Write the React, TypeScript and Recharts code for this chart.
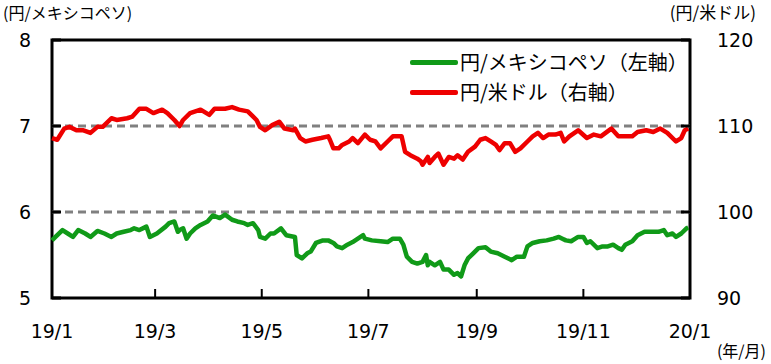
import React from 'react';
import { LineChart, Line, XAxis, YAxis, ReferenceLine, ReferenceArea } from 'recharts';

// x positions are days counted from 2019/1/1
const monthTicks = [0, 59, 120, 181, 243, 304, 365];
const monthLabels = ['19/1', '19/3', '19/5', '19/7', '19/9', '19/11', '20/1'];
const mxnTicks = [5, 6, 7, 8];
const usdTicks = [90, 100, 110, 120];

const mxnDays = [0, 2, 6, 9, 12, 15, 19, 22, 26, 30, 34, 37, 41, 45, 47, 50, 54, 56, 60, 65, 67, 70, 72, 73, 75, 77, 79, 82, 85, 89, 92, 96, 99, 103, 106, 110, 112, 115, 118, 119, 122, 125, 127, 131, 134, 139, 140, 143, 146, 148, 151, 155, 158, 161, 163, 166, 169, 172, 175, 178, 179, 183, 188, 192, 195, 199, 201, 203, 206, 209, 212, 214, 215, 216, 219, 222, 224, 227, 230, 232, 234, 236, 238, 241, 244, 248, 251, 255, 259, 263, 266, 270, 272, 275, 279, 283, 287, 290, 292, 294, 297, 301, 304, 306, 308, 312, 315, 318, 321, 324, 326, 328, 332, 335, 339, 344, 347, 350, 352, 355, 357, 360, 363, 364];
const mxnValues = [5.67, 5.71, 5.79, 5.75, 5.71, 5.79, 5.75, 5.71, 5.78, 5.75, 5.71, 5.75, 5.77, 5.79, 5.81, 5.79, 5.83, 5.71, 5.75, 5.83, 5.87, 5.89, 5.77, 5.79, 5.81, 5.69, 5.75, 5.81, 5.85, 5.89, 5.96, 5.93, 5.97, 5.91, 5.89, 5.87, 5.85, 5.87, 5.79, 5.71, 5.69, 5.75, 5.75, 5.81, 5.73, 5.71, 5.5, 5.46, 5.52, 5.54, 5.64, 5.67, 5.67, 5.64, 5.6, 5.58, 5.62, 5.65, 5.69, 5.73, 5.69, 5.67, 5.66, 5.65, 5.69, 5.69, 5.62, 5.48, 5.42, 5.4, 5.42, 5.5, 5.38, 5.42, 5.38, 5.42, 5.33, 5.33, 5.27, 5.29, 5.25, 5.38, 5.46, 5.52, 5.58, 5.59, 5.54, 5.52, 5.48, 5.44, 5.48, 5.48, 5.6, 5.64, 5.66, 5.67, 5.69, 5.71, 5.69, 5.67, 5.66, 5.71, 5.71, 5.64, 5.66, 5.58, 5.6, 5.6, 5.62, 5.58, 5.56, 5.62, 5.66, 5.73, 5.77, 5.77, 5.77, 5.79, 5.73, 5.75, 5.71, 5.75, 5.81, 5.82];

const usdDays = [0, 3, 7, 10, 14, 18, 22, 26, 29, 34, 37, 43, 46, 50, 54, 58, 63, 66, 70, 73, 75, 79, 85, 90, 93, 99, 103, 107, 112, 117, 119, 122, 126, 130, 133, 138, 139, 142, 145, 149, 154, 158, 159, 161, 164, 166, 170, 172, 175, 179, 182, 185, 188, 192, 195, 200, 202, 205, 209, 211, 212, 215, 216, 219, 221, 224, 227, 230, 232, 235, 238, 242, 245, 248, 251, 254, 256, 259, 262, 265, 268, 272, 275, 278, 281, 284, 288, 291, 293, 296, 301, 306, 310, 314, 320, 324, 328, 332, 335, 340, 344, 348, 352, 357, 360, 362, 364];
const usdValues = [108.6, 108.4, 109.7, 109.9, 109.5, 109.5, 109.2, 109.9, 109.9, 110.9, 110.7, 110.9, 111.1, 112.0, 112.0, 111.5, 111.9, 111.5, 110.7, 110.0, 110.7, 111.5, 111.9, 111.3, 112.0, 112.0, 112.2, 111.9, 111.7, 110.7, 109.9, 109.5, 110.1, 110.5, 109.7, 109.5, 109.7, 108.6, 108.2, 108.4, 108.6, 108.8, 108.4, 107.4, 107.4, 107.8, 108.2, 108.6, 108.0, 109.0, 108.4, 108.2, 107.4, 108.2, 108.8, 108.8, 107.0, 106.6, 106.2, 105.9, 105.5, 106.4, 105.7, 106.4, 106.8, 105.5, 106.4, 106.2, 106.6, 106.1, 107.0, 107.6, 108.4, 108.6, 108.2, 107.8, 107.2, 108.0, 108.0, 107.0, 107.4, 108.2, 108.8, 109.2, 108.6, 109.0, 109.0, 109.2, 108.2, 108.8, 109.5, 108.6, 109.0, 108.8, 109.7, 108.8, 108.8, 108.8, 109.3, 109.5, 109.3, 109.7, 109.2, 108.2, 108.6, 109.5, 109.7];

const GREEN = '#109a18';
const RED = '#ee0000';
const FONT = "'DejaVu Sans', 'Noto Sans CJK JP', sans-serif";
const JP_FONT = "'Noto Sans CJK JP', 'DejaVu Sans', sans-serif";

const buildData = () => {
    const rows = new Map<number, any>();
    mxnDays.forEach((d, i) => rows.set(d, { ...(rows.get(d) || { day: d }), mxn: mxnValues[i] }));
    usdDays.forEach((d, i) => rows.set(d, { ...(rows.get(d) || { day: d }), usd: usdValues[i] }));
    return Array.from(rows.values()).sort((a, b) => a.day - b.day);
};

const data = buildData();

const XTick = (props: any) => {
    const { x, y, payload } = props;
    const label = monthLabels[monthTicks.indexOf(payload.value)];
    return (
        <g>
            <line x1={x} y1={y} x2={x} y2={y - 9} stroke="#000" strokeWidth={2} />
            <text x={x} y={y + 40} textAnchor="middle" fontSize={19} fontFamily={FONT} fill="#000">
                {label}
            </text>
        </g>
    );
};

const LeftTick = (props: any) => {
    const { x, y, payload } = props;
    return (
        <g>
            <line x1={x} y1={y} x2={x + 9} y2={y} stroke="#000" strokeWidth={3} />
            <text x={x - 21} y={y + 7} textAnchor="end" fontSize={19} fontFamily={FONT} fill="#000">
                {payload.value}
            </text>
        </g>
    );
};

const RightTick = (props: any) => {
    const { x, y, payload } = props;
    return (
        <g>
            <line x1={x} y1={y} x2={x - 9} y2={y} stroke="#000" strokeWidth={3} />
            <text x={x + 27} y={y + 7} textAnchor="start" fontSize={19} fontFamily={FONT} fill="#000">
                {payload.value}
            </text>
        </g>
    );
};

const legendItems = [
    { name: '円/メキシコペソ（左軸）', color: GREEN },
    { name: '円/米ドル（右軸）', color: RED },
];

const LegendBox = () => (
    <div style={{ position: 'absolute', left: 410, top: 47 }}>
        {legendItems.map((item) => (
            <div key={item.name} style={{ display: 'flex', alignItems: 'center', height: 30 }}>
                <div style={{ width: 48, height: 5, background: item.color, borderRadius: 2, marginRight: 2 }} />
                <span style={{ fontSize: 20, fontFamily: JP_FONT, color: '#000', lineHeight: '30px', whiteSpace: 'nowrap' }}>
                    {item.name}
                </span>
            </div>
        ))}
    </div>
);

const App = () => {
    return (
        <div style={{ position: 'absolute', left: 0, top: 0, width: 771, height: 364, background: '#fff' }}>
            <div style={{ position: 'absolute', left: 3, top: 0, fontSize: 16, fontFamily: JP_FONT, lineHeight: '24px' }}>
                (円/メキシコペソ)
            </div>
            <div style={{ position: 'absolute', right: 15, top: 0, fontSize: 17, fontFamily: JP_FONT, lineHeight: '24px' }}>
                (円/米ドル)
            </div>
            <div style={{ position: 'absolute', right: 5, top: 339, fontSize: 16, fontFamily: JP_FONT, lineHeight: '22px' }}>
                (年/月)
            </div>
            <LineChart width={771} height={364} data={data} margin={{ top: 40, right: 0, bottom: 36, left: 0 }}>
                <XAxis
                    dataKey="day"
                    type="number"
                    domain={[0, 365]}
                    ticks={monthTicks}
                    height={30}
                    axisLine={false}
                    tickLine={false}
                    tickSize={0}
                    tickMargin={0}
                    tick={<XTick />}
                    interval={0}
                />
                <YAxis
                    yAxisId="left"
                    domain={[5, 8]}
                    ticks={mxnTicks}
                    width={52}
                    axisLine={false}
                    tickLine={false}
                    tickSize={0}
                    tickMargin={0}
                    tick={<LeftTick />}
                    interval={0}
                />
                <YAxis
                    yAxisId="right"
                    orientation="right"
                    domain={[90, 120]}
                    ticks={usdTicks}
                    width={81}
                    axisLine={false}
                    tickLine={false}
                    tickSize={0}
                    tickMargin={0}
                    tick={<RightTick />}
                    interval={0}
                />
                <ReferenceLine yAxisId="left" y={6} stroke="#808080" strokeWidth={3} strokeDasharray="8 5" />
                <ReferenceLine yAxisId="left" y={7} stroke="#808080" strokeWidth={3} strokeDasharray="8 5" />
                <Line
                    yAxisId="left"
                    dataKey="mxn"
                    stroke={GREEN}
                    strokeWidth={4.5}
                    dot={false}
                    connectNulls
                    strokeLinejoin="round"
                    isAnimationActive={false}
                />
                <Line
                    yAxisId="right"
                    dataKey="usd"
                    stroke={RED}
                    strokeWidth={4.5}
                    dot={false}
                    connectNulls
                    strokeLinejoin="round"
                    isAnimationActive={false}
                />
                <ReferenceArea
                    yAxisId="left"
                    x1={0}
                    x2={365}
                    y1={5}
                    y2={8}
                    fill="none"
                    fillOpacity={0}
                    stroke="#000"
                    strokeWidth={3}
                    ifOverflow="visible"
                />
            </LineChart>
            <LegendBox />
        </div>
    );
};

export default App;
